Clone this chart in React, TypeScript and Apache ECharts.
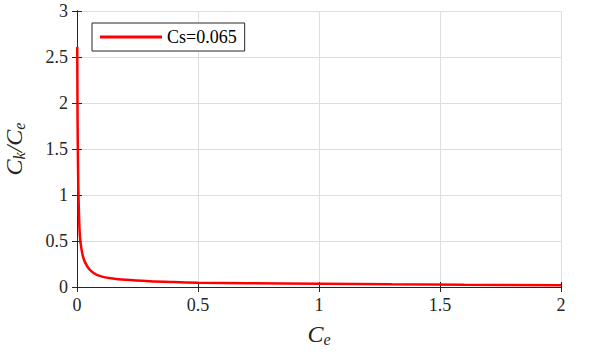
import React, { useEffect, useRef } from "react";
import * as echarts from "echarts";

const seriesName = "Cs=0.065";
const ceValues = [0.001, 0.002, 0.003, 0.005, 0.008, 0.012, 0.018, 0.026, 0.035, 0.05, 0.07, 0.1, 0.14, 0.2, 0.3, 0.4, 0.5, 0.7, 1.0, 1.3, 1.6, 2.0];
const ratioValues = [2.61, 2.0, 1.6, 1.15, 0.8, 0.55, 0.42, 0.32, 0.26, 0.195, 0.15, 0.115, 0.095, 0.078, 0.063, 0.054, 0.047, 0.041, 0.036, 0.03, 0.025, 0.02];

const FONT = "Liberation Serif, Times New Roman, serif";

export default function App() {
  const ref = useRef<HTMLDivElement>(null);
  useEffect(() => {
    if (!ref.current) return;
    const chart = echarts.init(ref.current, undefined, { renderer: "svg" });
    const data = ceValues.map((x, i) => [x, ratioValues[i]]);
    const axisLine = { show: true, lineStyle: { color: "#262626", width: 1 } };
    const axisTick = { show: true, inside: true, length: 5, lineStyle: { color: "#262626" } };
    const rich = {
      i: { fontFamily: FONT, fontStyle: "italic", fontSize: 24, color: "#262626" },
      s: { fontFamily: FONT, fontStyle: "italic", fontSize: 16, color: "#262626", verticalAlign: "bottom", padding: [10, 0, 0, 0] },
    };
    chart.setOption({
      animation: false,
      backgroundColor: "#ffffff",
      textStyle: { fontFamily: FONT },
      grid: { left: 77, right: 30, top: 11, bottom: 67, containLabel: false, outerBoundsMode: "none" },
      legend: {
        left: 92,
        top: 23,
        padding: [5, 8, 5, 8],
        borderColor: "#262626",
        borderWidth: 1,
        backgroundColor: "#ffffff",
        borderRadius: 0,
        itemWidth: 62,
        itemHeight: 3,
        icon: "rect",
        textStyle: { fontFamily: FONT, fontSize: 18, color: "#000000" },
        data: [seriesName],
      },
      xAxis: [
        {
          type: "value",
          min: 0,
          max: 2,
          interval: 0.5,
          position: "bottom",
          axisLine,
          axisTick,
          axisLabel: { fontFamily: FONT, fontSize: 18, color: "#262626", margin: 9 },
          splitLine: { show: true, lineStyle: { color: "#dedede", width: 1 } },
          name: "{i|C}{s|e}",
          nameLocation: "middle",
          nameGap: 34,
          nameTextStyle: { rich },
        },
        {
          type: "value",
          min: 0,
          max: 2,
          interval: 0.5,
          position: "top",
          axisLine,
          axisTick,
          axisLabel: { show: false },
          splitLine: { show: false },
        },
      ],
      yAxis: [
        {
          type: "value",
          min: 0,
          max: 3,
          interval: 0.5,
          position: "left",
          axisLine,
          axisTick,
          axisLabel: { fontFamily: FONT, fontSize: 18, color: "#262626", margin: 9 },
          splitLine: { show: true, lineStyle: { color: "#dedede", width: 1 } },
          name: "{i|C}{s|k}{i|/C}{s|e}",
          nameLocation: "middle",
          nameGap: 50,
          nameRotate: 90,
          nameTextStyle: { rich },
        },
        {
          type: "value",
          min: 0,
          max: 3,
          interval: 0.5,
          position: "right",
          axisLine,
          axisTick,
          axisLabel: { show: false },
          splitLine: { show: false },
        },
      ],
      series: [
        {
          name: seriesName,
          type: "line",
          data,
          symbol: "none",
          smooth: 0.3,
          lineStyle: { color: "#ff0000", width: 2.5 },
          itemStyle: { color: "#ff0000" },
        },
      ],
    });
    return () => chart.dispose();
  }, []);
  return <div ref={ref} style={{ position: "absolute", left: 0, top: 0, width: 591, height: 354 }} />;
}
